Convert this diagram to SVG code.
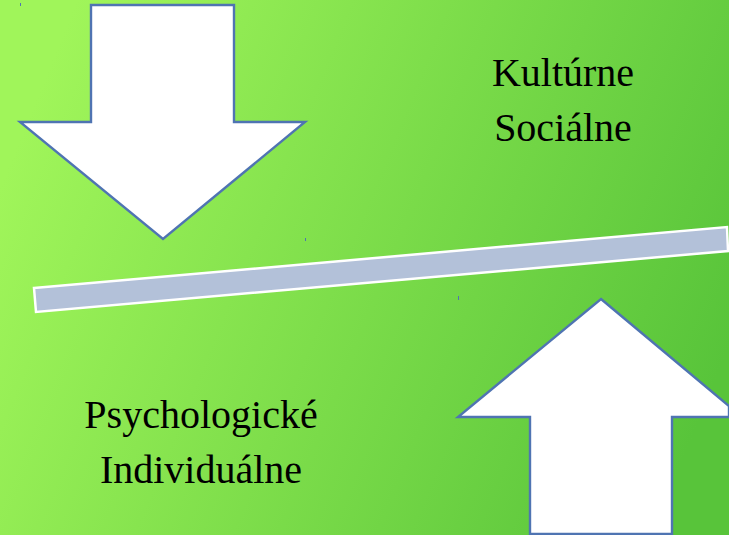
<svg xmlns="http://www.w3.org/2000/svg" width="729" height="535" viewBox="0 0 729 535">
<defs>
<linearGradient id="bg" x1="0" y1="0.35" x2="1" y2="0.65">
<stop offset="0" stop-color="#a0f55a"/>
<stop offset="1" stop-color="#58c43a"/>
</linearGradient>
<style>
.arrow{fill:#ffffff;stroke:#4f74b2;stroke-width:2.4;stroke-linejoin:miter}
.bar{fill:#b3c1d9;stroke:#ffffff;stroke-width:2.5}
.lbl{font-family:"Liberation Serif","Times New Roman",serif;font-size:40px;fill:#000000;text-anchor:middle}
.speck{stroke:#4f74b2;stroke-width:1}
</style>
</defs>
<rect x="0" y="0" width="729" height="535" fill="url(#bg)"/>
<g id="specks">
<line class="speck" x1="20.5" y1="3" x2="20.5" y2="6"/>
<line class="speck" x1="305.5" y1="238" x2="305.5" y2="241"/>
<line class="speck" x1="458.5" y1="296" x2="458.5" y2="300"/>
</g>
<g id="down-arrow">
<polygon class="arrow" points="91,5 234,5 234,122 305,122 163,239 20,122 91,122"/>
</g>
<g id="up-arrow">
<polygon class="arrow" points="601,299 729,406 729,417 672,417 672,534 530,534 530,417 458,417"/>
</g>
<g id="balance-bar">
<polygon class="bar" points="34,288 727,227 728,251 36,312"/>
</g>
<g id="label-top">
<text class="lbl" x="563" y="86">Kultúrne</text>
<text class="lbl" x="563" y="141">Sociálne</text>
</g>
<g id="label-bottom">
<text class="lbl" x="201" y="428">Psychologické</text>
<text class="lbl" x="201" y="483">Individuálne</text>
</g>
</svg>
